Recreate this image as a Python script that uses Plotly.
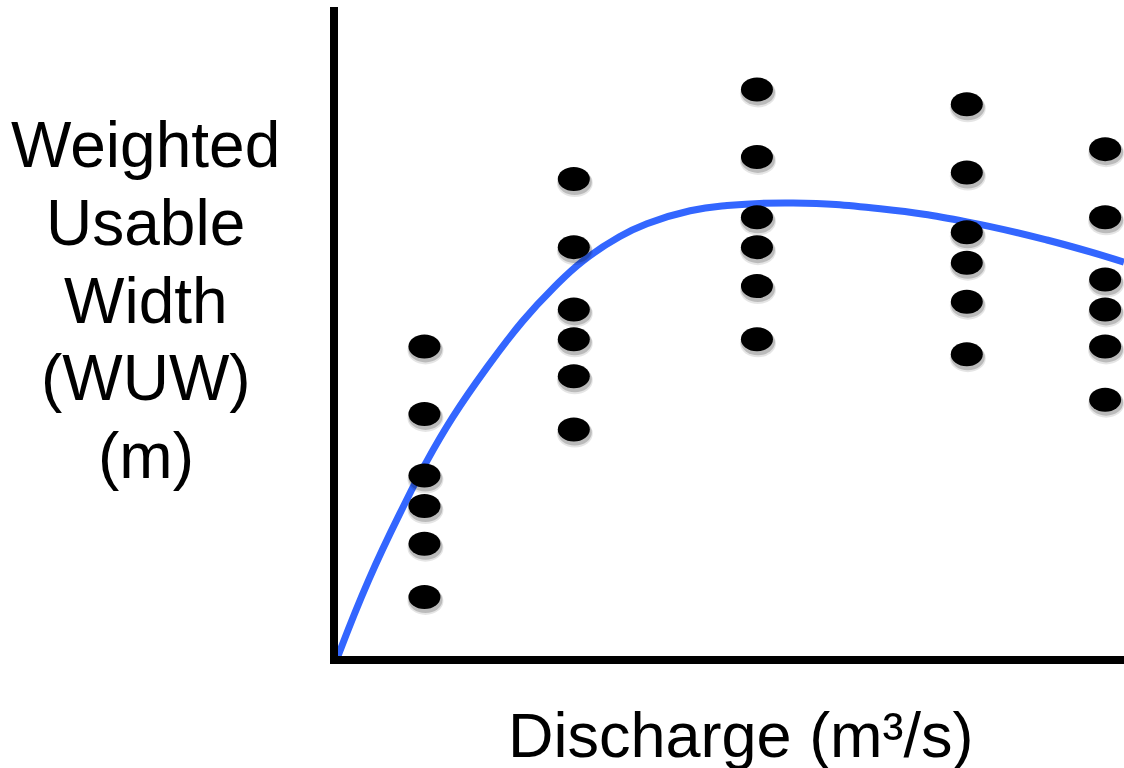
import plotly.graph_objects as go

# Measured weighted usable width at five discharge levels (six transects each)
discharge = [1.1, 3.0, 5.33, 8.0, 9.76]
wuw_obs = [
    [47.7, 37.3, 27.8, 23.1, 17.3, 9.1],
    [73.5, 63.0, 53.4, 48.8, 43.1, 34.9],
    [87.3, 76.9, 67.6, 63.0, 57.0, 48.8],
    [85.0, 74.5, 65.3, 60.6, 54.6, 46.5],
    [78.1, 67.6, 58.0, 53.4, 47.7, 39.5],
]

# Fitted WUW-discharge relationship
fit_q = [0.00, 0.39, 0.83, 1.12, 1.46, 1.88, 2.35, 2.74, 3.12, 3.58, 3.93,
         4.48, 4.95, 5.79, 6.90, 8.00, 9.02, 10.0]
fit_wuw = [0.0, 11.7, 23.0, 29.8, 36.8, 44.2, 51.6, 56.7, 60.9, 64.6, 66.6,
           68.6, 69.4, 69.8, 68.9, 66.9, 64.1, 60.7]

x_title = "Discharge (m³/s)"
y_title_lines = ["Weighted", "Usable", "Width", "(WUW)", "(m)"]

FONT = "Liberation Sans, Arial, Helvetica, sans-serif"

fig = go.Figure()
fig.add_trace(go.Scatter(
    x=fit_q, y=fit_wuw, mode="lines",
    line=dict(color="#3366FF", width=7, shape="spline", smoothing=1.3),
    hoverinfo="skip", showlegend=False,
))

# Observations drawn as ellipses with a soft drop shadow
shapes = []
for q, col in zip(discharge, wuw_obs):
    for w in col:
        for dx, dy, grow, alpha in [(1, -4, 2, 0.10), (1, -3, 1, 0.18)]:
            shapes.append(dict(
                type="circle", xref="x", yref="y",
                xsizemode="pixel", ysizemode="pixel",
                xanchor=q, yanchor=w,
                x0=-16 - grow + dx, x1=16 + grow + dx,
                y0=-12 - grow + dy, y1=12 + grow + dy,
                fillcolor=f"rgba(0,0,0,{alpha})", line=dict(width=0),
            ))
        shapes.append(dict(
            type="circle", xref="x", yref="y",
            xsizemode="pixel", ysizemode="pixel",
            xanchor=q, yanchor=w,
            x0=-16, x1=16, y0=-12, y1=12,
            fillcolor="black", line=dict(width=0),
        ))

# Stacked y-axis title, one line per annotation for tight leading
annotations = []
for i, line in enumerate(y_title_lines):
    annotations.append(dict(
        text=line, xref="paper", yref="paper",
        x=-0.2443, y=0.787 - i * 0.1197,
        xanchor="center", yanchor="middle", showarrow=False,
        font=dict(family=FONT, size=64, color="black"),
    ))
annotations.append(dict(
    text=x_title, xref="paper", yref="paper", x=0.5127, y=-0.1217,
    xanchor="center", yanchor="middle", showarrow=False,
    font=dict(family=FONT, size=63, color="black"),
))

fig.update_layout(
    width=1124, height=768,
    margin=dict(l=338, r=0, t=7, b=112),
    paper_bgcolor="white", plot_bgcolor="white",
    shapes=shapes,
    showlegend=False,
    annotations=annotations,
)
fig.update_xaxes(range=[0, 10], showline=True, linecolor="black", linewidth=8,
                 showgrid=False, zeroline=False, showticklabels=False, ticks="")
fig.update_yaxes(range=[0, 100], showline=True, linecolor="black", linewidth=8,
                 showgrid=False, zeroline=False, showticklabels=False, ticks="")

fig.write_html("out.html")
